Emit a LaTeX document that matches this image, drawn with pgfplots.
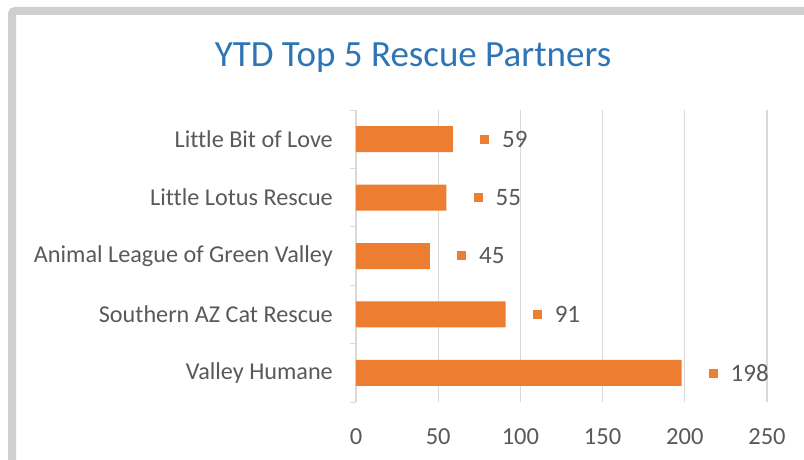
\documentclass[border=0pt]{standalone}
\usepackage{fontspec}
\setmainfont{Carlito}[Ligatures=NoCommon]
\usepackage{pgfplots}
\pgfplotsset{compat=1.18}
\definecolor{barorange}{HTML}{ED7D31}
\definecolor{titleblue}{HTML}{2E75B6}
\definecolor{labelgray}{HTML}{595959}
\definecolor{gridgray}{HTML}{D9D9D9}
\definecolor{framegray}{HTML}{D0CECE}
\begin{document}
\begin{tikzpicture}
\useasboundingbox (0,0) rectangle (804pt,459pt);
% outer frame (only top and left edges visible in the crop)
\draw[framegray, line width=8pt, rounded corners=3pt] (12pt,-5pt) -- (12pt,448pt) -- (820pt,448pt);
% title
\node[anchor=base, text=titleblue, font=\fontsize{37}{44}\selectfont, inner sep=0pt]
  at (413pt,392pt) {YTD Top 5 Rescue Partners};
\begin{axis}[
    at={(356pt,57pt)}, anchor=south west,
    scale only axis, width=411pt, height=292pt,
    xbar, bar width=26pt,
    xmin=0, xmax=250, ymin=-0.5, ymax=4.5,
    xtick={0,50,100,150,200,250},
    ytick={0,1,2,3,4},
    yticklabels={Valley Humane, Southern AZ Cat Rescue, Animal League of Green Valley, Little Lotus Rescue, Little Bit of Love},
    minor ytick={-0.5,0.5,1.5,2.5,3.5,4.5},
    ytick pos=left,
    tick align=outside,
    major tick length=0pt,
    minor tick length=6pt,
    x tick style={draw=none},
    y tick style={draw=gridgray, line width=1pt},
    axis line style={draw=none},
    xmajorgrids, grid style={gridgray, line width=1.2pt},
    /pgf/number format/assume math mode=true,
    ticklabel style={text=labelgray, inner sep=0pt},
    xticklabel style={font=\fontsize{24.5}{28}\selectfont, yshift=-26pt},
    yticklabel style={font=\fontsize{24.2}{28}\selectfont, anchor=east, xshift=-23pt},
    point meta=x,
    nodes near coords={\textcolor{barorange}{\rule[3.7pt]{9pt}{9pt}}\hspace{13pt}\pgfmathprintnumber{\pgfplotspointmeta}},
    every node near coord/.append style={anchor=west, inner sep=0pt, xshift=27pt,
        text=labelgray, font=\fontsize{25}{28}\selectfont},
]
\addplot[fill=barorange, draw=none] coordinates {
(198,0) (91,1) (45,2) (55,3) (59,4)
};
\end{axis}
\end{tikzpicture}
\end{document}
